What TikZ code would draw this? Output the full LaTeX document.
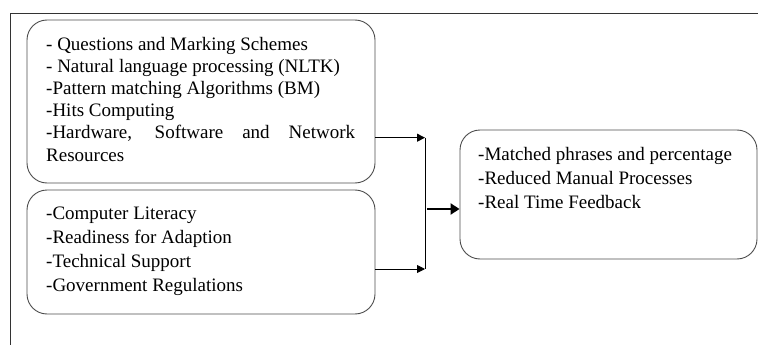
\documentclass[tikz,border=0pt]{standalone}
\usepackage{fontspec}
\setmainfont{Liberation Serif}
\usetikzlibrary{arrows.meta}
\begin{document}
\begin{tikzpicture}[x=1pt,y=-1pt,
  box/.style={draw=black!70, line width=0.9pt, rounded corners=20pt, inner sep=0pt},
  txt/.style={anchor=base west, inner sep=0pt, font=\fontsize{19}{23}\selectfont},
  frame/.style={draw=black!80, line width=0.8pt},
  arr/.style={draw=black, line width=0.9pt, -{Triangle[length=8pt,width=8pt]}},
  bigarr/.style={draw=black, line width=2.6pt, -{Triangle[length=9pt,width=11pt]}}]
\useasboundingbox (0,0) rectangle (758,345);
\draw[frame] (758,13) -- (10,13) -- (10,345);
% boxes
\node[box, minimum width=348pt, minimum height=163pt] (b1) at (201,101.5) {};
\node[box, minimum width=348pt, minimum height=124pt] (b2) at (201,252) {};
\node[box, minimum width=297pt, minimum height=129pt] (b3) at (608.5,194.5) {};
% box 1 text
\node[txt] (t11) at (46,51) {- Questions and Marking Schemes};
\node[txt] (t12) at (46,73) {- Natural language processing (NLTK)};
\node[txt] (t13) at (46,95) {-Pattern matching Algorithms (BM)};
\node[txt] (t14) at (46,117) {-Hits Computing};
\node[txt] (t15) at (46,139) {\makebox[309pt][s]{-Hardware, Software and Network}};
\node[txt] (t16) at (46,161) {Resources};
% box 2 text
\node[txt] (t21) at (46,219.5) {-Computer Literacy};
\node[txt] (t22) at (46,243.5) {-Readiness for Adaption};
\node[txt] (t23) at (46,267.6) {-Technical Support};
\node[txt] (t24) at (46,291.7) {-Government Regulations};
% box 3 text
\node[txt] (t31) at (478,160.7) {-Matched phrases and percentage};
\node[txt] (t32) at (478,184.5) {-Reduced Manual Processes};
\node[txt] (t33) at (478,208.3) {-Real Time Feedback};
% connectors
\coordinate (j1) at (425,137.7);
\coordinate (j2) at (425,269);
\coordinate (m) at (427,209);
\draw[arr] (b1.east |- j1) -- (j1);
\draw[arr] (b2.east |- j2) -- (j2);
\draw[draw=black, line width=0.9pt] (j1) -- (j2);
\draw[bigarr] (m) -- (b3.west |- m);
\end{tikzpicture}
\end{document}
